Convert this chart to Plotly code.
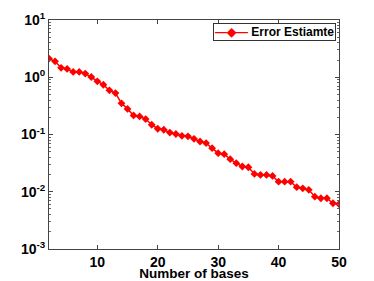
import plotly.graph_objects as go

bases = list(range(2, 51))
error_estimate = [2.12, 1.90, 1.46, 1.40, 1.24, 1.24, 1.16, 1.01, 0.85, 0.74,
                  0.59, 0.53, 0.35, 0.28, 0.215, 0.207, 0.186, 0.148, 0.126, 0.121,
                  0.108, 0.102, 0.095, 0.093, 0.084, 0.0754, 0.0707, 0.0578, 0.0472, 0.0454,
                  0.0371, 0.0316, 0.0276, 0.0268, 0.0205, 0.0197, 0.0197, 0.0189, 0.0150, 0.0150,
                  0.0150, 0.0120, 0.0115, 0.0108, 0.0082, 0.0077, 0.0077, 0.0063, 0.0061]
y_tickvals = [1e-3, 1e-2, 1e-1, 1e0, 1e1]
y_ticktext = ["10<sup>-3</sup>", "10<sup>-2</sup>", "10<sup>-1</sup>", "10<sup>0</sup>", "10<sup>1</sup>"]
x_tickvals = [10, 20, 30, 40, 50]
series_name = "Error Estiamte"

FAM = "Liberation Sans, Arial, Helvetica"

fig = go.Figure()
fig.add_trace(go.Scatter(
    x=bases, y=error_estimate, mode="lines+markers", name=series_name,
    line=dict(color="#ff0000", width=1.5),
    marker=dict(symbol="diamond", size=6, color="#ff0000"),
    showlegend=False,
))

# legend box (MATLAB-style compact legend)
fig.add_annotation(
    xref="paper", yref="paper", x=0.989, y=0.986, xanchor="right", yanchor="top",
    text="<span style='color:#ff0000'>—◆—</span> " + series_name,
    showarrow=False, bordercolor="#333333", borderwidth=1, borderpad=1,
    bgcolor="white", font=dict(family=FAM, size=12, color="black", weight="bold"),
)

# the page body adds an 8px margin, so the figure is sized to fit the window
fig.update_layout(
    width=366, height=273,
    margin=dict(l=41, r=35, t=12, b=32),
    paper_bgcolor="white", plot_bgcolor="white",
    font=dict(family=FAM, size=12, color="black", weight="bold"),
    showlegend=False,
    xaxis=dict(range=[2, 50], tickvals=x_tickvals, ticks="inside", ticklen=4,
               showline=True, linecolor="#444444", linewidth=1, mirror="ticks",
               showgrid=False, zeroline=False, tickcolor="#444444", automargin=False,
               tickfont=dict(family=FAM, size=14, color="black", weight="bold"),
               title=dict(text="Number of bases", standoff=0,
                          font=dict(family=FAM, size=13.5, color="black", weight="bold"))),
    yaxis=dict(type="log", range=[-3, 1], tickvals=y_tickvals, ticktext=y_ticktext,
               ticks="inside", ticklen=4, tickcolor="#444444", automargin=False,
               tickfont=dict(family=FAM, size=14, color="black", weight="bold"),
               minor=dict(ticks="inside", ticklen=2, dtick="D1", tickcolor="#666666", showgrid=False),
               showline=True, linecolor="#444444", linewidth=1, mirror="ticks",
               showgrid=False, zeroline=False),
)

fig.write_html("out.html")
